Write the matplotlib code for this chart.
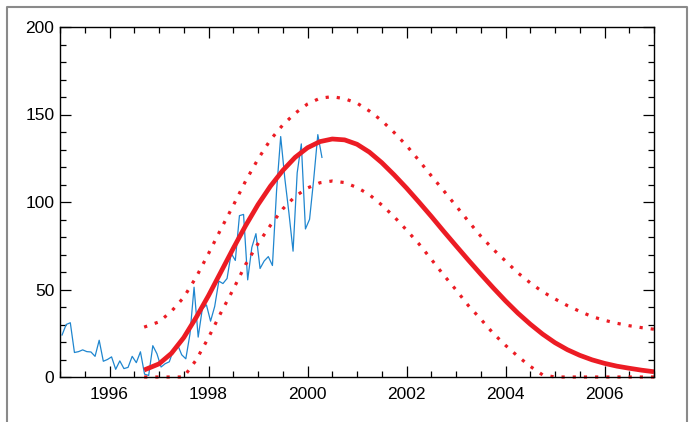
import numpy as np
import matplotlib
matplotlib.use("Agg")
import matplotlib.pyplot as plt
from matplotlib.lines import Line2D
from matplotlib.ticker import MultipleLocator

plt.rcParams['font.family'] = ['Liberation Sans', 'DejaVu Sans']

# ----------------------- DATA -----------------------
# monthly values, Jan 1995 .. Apr 2000
obs_start = 1995
obs_values = [
    24, 30, 31, 14, 14.5, 15.5, 14.5, 14.3, 11.8, 21, 9, 10,
    11.5, 4.4, 9.2, 4.8, 5.5, 11.8, 8.2, 14.4, 1.6, 0.9, 17.9, 13.3,
    5.7, 7.6, 8.7, 15.5, 18.5, 12.7, 10.4, 24.4, 51.3, 22.8, 39, 41.2,
    31.9, 40.3, 54.8, 53.4, 56.3, 70.7, 66.6, 92.2, 92.9, 55.5, 74, 81.9,
    62, 66.3, 68.8, 63.7, 106.4, 137.4, 113.5, 93.7, 71.9, 116.7, 133.2, 84.6,
    90.1, 112.9, 138.5, 125.5,
]

pred_years = [
    1996.7, 1997.0, 1997.25, 1997.5, 1997.75, 1998.0, 1998.25, 1998.5, 1998.75,
    1999.0, 1999.25, 1999.5, 1999.75, 2000.0, 2000.25, 2000.5, 2000.75,
    2001.0, 2001.25, 2001.5, 2001.75, 2002.0, 2002.25, 2002.5, 2002.75,
    2003.0, 2003.25, 2003.5, 2003.75, 2004.0, 2004.25, 2004.5, 2004.75,
    2005.0, 2005.25, 2005.5, 2005.75, 2006.0, 2006.25, 2006.5, 2006.75, 2007.0,
]
pred_mid = [
    4, 7.5, 13.5, 22.5, 34, 46.5, 60, 73.5, 86.5,
    98.5, 109, 118, 125.5, 131, 134.5, 136, 135.5,
    133, 128.5, 122.5, 115.5, 108, 100, 91.8, 83.3,
    75, 66.8, 58.8, 51, 43.5, 36.5, 30.2, 24.5,
    19.6, 15.6, 12.4, 9.8, 7.8, 6.2, 5, 3.9, 3,
]
pred_hi = [
    28.5, 31.5, 37.5, 45.5, 57, 70.5, 84.5, 98, 112,
    124.5, 135.5, 144, 150.7, 156, 159.3, 160.2, 159,
    156.5, 152, 146.5, 139.7, 132.3, 123.8, 115, 106.5,
    97.8, 89, 80.5, 73, 66.3, 59.5, 53.8, 48.7,
    44.6, 40.8, 37.5, 34.5, 32.4, 30.7, 29.3, 28.2, 27.3,
]
pred_lo = [
    0, 0, 0, 0, 9.7, 22.5, 36.7, 50.1, 64.3,
    76.2, 86.6, 96, 103.2, 108, 111, 112, 111.1,
    108.3, 104.2, 98.3, 91.6, 84, 76.1, 67.3, 58.3,
    49.8, 40.8, 33.1, 25, 18.1, 11.8, 6.1, 1.2,
    0, 0, 0, 0, 0, 0, 0, 0, 0,
]

x_ticks = [1996, 1998, 2000, 2002, 2004, 2006]
y_ticks = [0, 50, 100, 150, 200]

# ----------------------- PLOT -----------------------
obs_years = obs_start + (np.arange(len(obs_values)) + 0.5) / 12.0

fig = plt.figure(figsize=(6.92, 4.22), dpi=100)
ax = fig.add_axes([60 / 692, 45 / 422, 594 / 692, 350 / 422])

red = '#ec1c24'
ax.plot(obs_years, obs_values, color='#1f86cf', lw=0.9)
ax.plot(pred_years, pred_mid, color=red, lw=3.4, solid_capstyle='butt',
        solid_joinstyle='round')
dots = (0, (1, 2.5))
ax.plot(pred_years, pred_hi, color=red, lw=2.3, linestyle=dots, clip_on=False)
ax.plot(pred_years, pred_lo, color=red, lw=2.3, linestyle=dots, clip_on=False)

ax.set_xlim(1995, 2007)
ax.set_ylim(0, 200)
ax.set_xticks(x_ticks)
ax.set_yticks(y_ticks)
ax.xaxis.set_minor_locator(MultipleLocator(0.5))
ax.yaxis.set_minor_locator(MultipleLocator(10))
ax.tick_params(which='both', direction='in', top=True, right=True,
               width=0.9, color='black', labelsize=12.5)
ax.tick_params(which='major', length=8, pad=7)
ax.tick_params(which='minor', length=4)
ax.tick_params(axis='y', pad=4)
for s in ax.spines.values():
    s.set_linewidth(1.0)

# outer grey frame (open at the bottom)
fx0, fx1, fy1 = 6.5 / 692, 686.5 / 692, 1 - 6.5 / 422
fig.add_artist(Line2D([fx0, fx0, fx1, fx1], [0, fy1, fy1, 0],
                      transform=fig.transFigure, color='#8a8a8a', lw=1.5))

fig.savefig('out.png', dpi=100)
